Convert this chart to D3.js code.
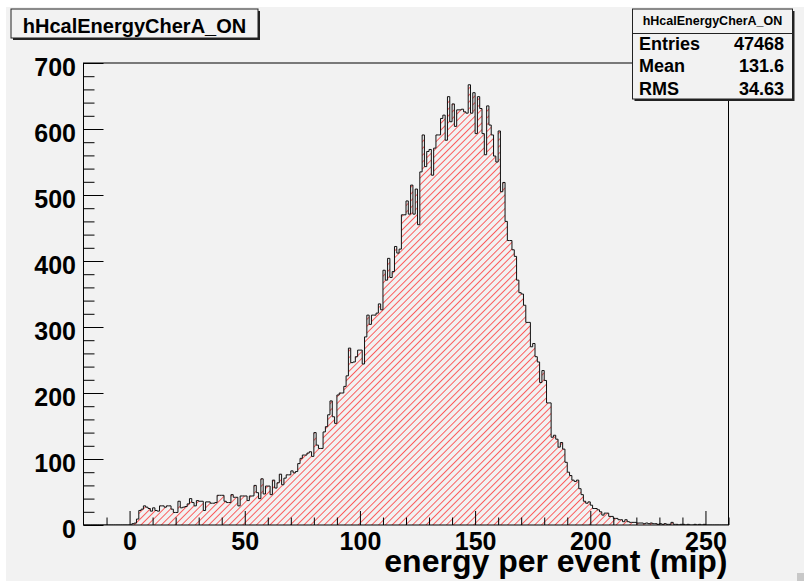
<!DOCTYPE html>
<html>
<head>
<meta charset="utf-8">
<script src="https://cdn.jsdelivr.net/npm/d3@7"></script>
<style>
  html, body { margin: 0; padding: 0; background: #ffffff; }
  svg { display: block; }
  text { font-family: "Liberation Sans", Arial, Helvetica, sans-serif; font-weight: bold; }
</style>
</head>
<body>
<script>
// ---------------- data ----------------
const histTitle = "hHcalEnergyCherA_ON";
const xTitle = "energy per event (mip)";
const xDomain = [-20, 260];
const yDomain = [0, 700];
const binStart = 0;      // low edge of first listed bin
const binWidth = 1;
// counts per bin (bin low edges 0 .. 259)
const countsLow = [0,2,3,9,22,24,29,27,25,21,26,22,21,29,29,27,29,29,24,19,
  19,36,26,27,28,32,40,34,29,37,36,36,22,35,35,33,33,34,45,45,
  45,36,34,34,46,42,42,29,44,44,44,37,44,44,60,49,40,70,47,59,
  59,46,68,56,64,77,61,71,76,76,82,79,81,93,101,106,106,109,111,104];
const countsRise = [140,121,116,116,141,149,167,188,164,154,197,200,200,210,226,268,246,247,255,265,
  265,244,285,318,304,318,318,321,335,326,386,371,404,375,384,422,412,418,470,470];
const countsPeak = [491,471,515,471,509,455,535,591,543,566,569,530,571,591,591,616,621,583,649,611,
  638,604,629,629,630,626,624,667,624,655,593,649,631,593,561,635,606,591,559,550];
const countsFall = [597,505,519,460,431,431,417,407,371,352,350,333,307,307,270,275,255,247,216,234,
  219,185,185,133,136,130,118,125,115,95,80,75,68,66,68,55,46,36,33,35];
const countsTail = [30,25,25,23,20,15,18,18,13,13,10,10,8,8,5,8,5,4,4,4,
  3,3,3,2,3,2,3,2,2,1,2,1,2,1,1,4,1,1,0,1,
  1,0,1,0,0,1,0,1,0,1,0,0,0,0,0,0,0,0,0,0];
const xMajorTicks = [0, 50, 100, 150, 200, 250];
const yMajorTicks = [0, 100, 200, 300, 400, 500, 600, 700];
const statLabels = ["Entries", "Mean", "RMS"];
const statValues = ["47468", "131.6", "34.63"];

const counts = countsLow.concat(countsRise, countsPeak, countsFall, countsTail);

// ---------------- layout ----------------
const W = 804, H = 581;
const frame = {left: 83.5, right: 728.5, top: 63, bottom: 525};

const svg = d3.select("body").append("svg").attr("width", W).attr("height", H);

// canvas background
svg.append("rect").attr("x", 6).attr("y", 7).attr("width", W - 6).attr("height", H - 7).attr("fill", "#f2f2f2");

const x = d3.scaleLinear().domain(xDomain).range([frame.left, frame.right]);
const y = d3.scaleLinear().domain(yDomain).range([frame.bottom, frame.top]);

// hatch pattern
const defs = svg.append("defs");
const pat = defs.append("pattern").attr("id", "hatch").attr("patternUnits", "userSpaceOnUse")
  .attr("width", 4.8).attr("height", 4.8).attr("patternTransform", "rotate(45)");
pat.append("line").attr("x1", 0.5).attr("y1", 0).attr("x2", 0.5).attr("y2", 4.8)
  .attr("stroke", "#ff1a1a").attr("stroke-width", 0.8).attr("stroke-opacity", 0.85);

defs.append("clipPath").attr("id", "frameClip").append("rect")
  .attr("x", frame.left).attr("y", frame.top).attr("width", frame.right - frame.left).attr("height", frame.bottom - frame.top);

// histogram points (step)
const pts = [];
for (let v = xDomain[0]; v < binStart; v += binWidth) pts.push({e: v, c: 0});
counts.forEach((c, i) => pts.push({e: binStart + i * binWidth, c: c}));
pts.push({e: binStart + counts.length * binWidth, c: counts[counts.length - 1]});

const g = svg.append("g").attr("clip-path", "url(#frameClip)");
const area = d3.area().curve(d3.curveStepAfter).x(d => x(d.e)).y0(y(0)).y1(d => y(d.c));
g.append("path").datum(pts).attr("d", area).attr("fill", "url(#hatch)");
const line = d3.line().curve(d3.curveStepAfter).x(d => x(d.e)).y(d => y(d.c));
g.append("path").datum(pts).attr("d", line).attr("fill", "none").attr("stroke", "#111").attr("stroke-width", 1);

// frame
svg.append("rect").attr("x", frame.left).attr("y", frame.top)
  .attr("width", frame.right - frame.left).attr("height", frame.bottom - frame.top)
  .attr("fill", "none").attr("stroke", "#000").attr("stroke-width", 1);

// x axis: minor and major ticks drawn inward
const xMinor = d3.axisBottom(x).tickValues(d3.range(-10, 261, 10).filter(v => v % 50 !== 0)).tickSize(-7.5).tickFormat("");
const xMajor = d3.axisBottom(x).tickValues(xMajorTicks).tickSize(-14).tickPadding(0).tickFormat(d3.format("d"));
const gxm = svg.append("g").attr("transform", `translate(0,${frame.bottom})`).call(xMinor);
const gx = svg.append("g").attr("transform", `translate(0,${frame.bottom})`).call(xMajor);
[gxm, gx].forEach(a => { a.select(".domain").remove(); a.selectAll("line").attr("stroke", "#000"); });
gx.selectAll("text").attr("y", 25).attr("dy", 0).attr("fill", "#000")
  .style("font-size", "25px").style("font-family", "'Liberation Sans', Arial, sans-serif").style("font-weight", "bold");

// y axis
const yMinor = d3.axisLeft(y).tickValues(d3.range(20, 700, 20).filter(v => v % 100 !== 0)).tickSize(-11).tickFormat("");
const yMajor = d3.axisLeft(y).tickValues(yMajorTicks).tickSize(-20).tickFormat(d3.format("d"));
const gym = svg.append("g").attr("transform", `translate(${frame.left},0)`).call(yMinor);
const gy = svg.append("g").attr("transform", `translate(${frame.left},0)`).call(yMajor);
[gym, gy].forEach(a => { a.select(".domain").remove(); a.selectAll("line").attr("stroke", "#000"); });
gy.selectAll("text").attr("x", -7.5).attr("dy", "0.5em").attr("fill", "#000")
  .style("font-size", "25px").style("font-family", "'Liberation Sans', Arial, sans-serif").style("font-weight", "bold");

// x axis title
svg.append("text").attr("x", frame.right - 1).attr("y", 572).attr("text-anchor", "end")
  .style("font-size", "32px").attr("fill", "#000").text(xTitle);

// title box
const tb = {x: 11, y: 9, w: 247, h: 29};
svg.append("rect").attr("x", tb.x + 2).attr("y", tb.y + 2).attr("width", tb.w).attr("height", tb.h).attr("fill", "#222");
svg.append("rect").attr("x", tb.x).attr("y", tb.y).attr("width", tb.w).attr("height", tb.h)
  .attr("fill", "#f2f2f2").attr("stroke", "#222").attr("stroke-width", 1);
svg.append("text").attr("x", tb.x + tb.w / 2).attr("y", 32.5).attr("text-anchor", "middle")
  .style("font-size", "20px").attr("fill", "#000").text(histTitle);

// stats box
const sb = {x: 632.5, y: 9, w: 160, h: 90};
svg.append("rect").attr("x", sb.x + 2).attr("y", sb.y + 2).attr("width", sb.w).attr("height", sb.h).attr("fill", "#222");
svg.append("rect").attr("x", sb.x).attr("y", sb.y).attr("width", sb.w).attr("height", sb.h)
  .attr("fill", "#f2f2f2").attr("stroke", "#222").attr("stroke-width", 1);
svg.append("line").attr("x1", sb.x).attr("x2", sb.x + sb.w).attr("y1", 33.5).attr("y2", 33.5).attr("stroke", "#222");
svg.append("text").attr("x", sb.x + sb.w / 2).attr("y", 24.5).attr("text-anchor", "middle")
  .style("font-size", "12.5px").attr("fill", "#000").text(histTitle);
const rowBase = [49.5, 72, 94.5];
statLabels.forEach((lab, i) => {
  svg.append("text").attr("x", 639).attr("y", rowBase[i]).style("font-size", "18px").attr("fill", "#000").text(lab);
  svg.append("text").attr("x", 784).attr("y", rowBase[i]).attr("text-anchor", "end").style("font-size", "18px").attr("fill", "#000").text(statValues[i]);
});

// resize grip
svg.append("rect").attr("x", 797).attr("y", 573).attr("width", 7).attr("height", 8).attr("fill", "#c8c8c8");
</script>
</body>
</html>
